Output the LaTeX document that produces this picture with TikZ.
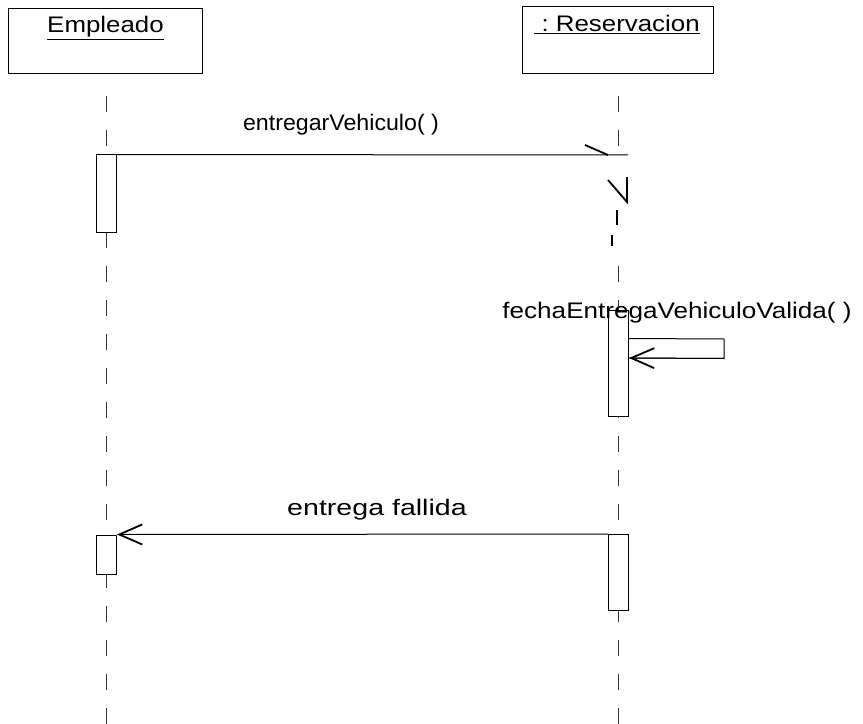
\documentclass[tikz,border=0pt]{standalone}
\usepackage{fontspec}
\setmainfont{Liberation Sans}
\usetikzlibrary{arrows.meta}
\newcommand{\wtxt}[2][1.15]{\scalebox{#1}[1]{#2}}
\begin{document}
\begin{tikzpicture}[x=1bp,y=-1bp,
  objbox/.style={draw, line width=1bp, inner sep=0pt},
  lbl/.style={inner sep=0pt, anchor=base, font=\fontsize{22.5bp}{26bp}\selectfont},
  lifeline/.style={draw=black!80, line width=0.9bp, dash pattern=on 16bp off 18bp},
  act/.style={draw, fill=white, line width=1bp, minimum width=20bp, inner sep=0pt},
  msg/.style={line width=1bp},
  barb/.style={-{Straight Barb[length=23bp,width=20bp,line width=1.8bp]}},
  artif/.style={line width=1.8bp}]
\useasboundingbox (0,0) rectangle (863,724);
% objects
\node[objbox, minimum width=193bp, minimum height=65bp] (emp) at (105.5,41.5) {};
\node[objbox, minimum width=191bp, minimum height=67bp] (res) at (618,40.5) {};
\node[lbl] (empT) at (105.5,33) {\underline{\wtxt{Empleado}}};
\node[lbl] (resT) at (617,32) {\underline{\wtxt{\ :\ Reservacion}}};
% lifelines
\coordinate (eTop) at (106,96);
\coordinate (eBot) at (106,724);
\coordinate (rTop) at (618.5,96);
\coordinate (rMid) at (618.5,150);
\coordinate (rMid2) at (618.5,266);
\coordinate (rBot) at (618.5,724);
\draw[lifeline] (eTop) -- (eBot);
\draw[lifeline] (rTop) -- (rMid);
\draw[lifeline] (rMid2) -- (rBot);
% activations
\node[act, minimum height=77bp] (ea1) at (106.5,193.5) {};
\node[act, minimum height=39bp] (ea2) at (106.5,554.5) {};
\node[act, minimum height=106bp] (ra1) at (618.5,363) {};
\node[act, minimum height=76bp] (ra2) at (618.5,572.5) {};
% message 1
\coordinate (m1end) at (628,155);
\draw[msg] (ea1.north east) -- (m1end);
\node[lbl] (m1) at (341,131) {\wtxt[1.03]{entregarVehiculo( )}};
% broken arrowhead / lifeline marks
\coordinate (a1) at (585,145);
\coordinate (a2) at (608,155);
\draw[artif] (a1) -- (a2);
\coordinate (z1) at (608,180);
\coordinate (z2) at (627,202);
\coordinate (z3) at (627,177);
\draw[artif] (z1) -- (z2) -- (z3);
\coordinate (d1) at (617,210);
\coordinate (d2) at (617,225);
\draw[line width=1.4bp] (d1) -- (d2);
\coordinate (d3) at (612,235);
\coordinate (d4) at (612,246);
\draw[line width=1.2bp] (d3) -- (d4);
% self call
\node[lbl] (m2) at (677,318) {\wtxt[1.16]{fechaEntregaVehiculoValida( )}};
\coordinate (s1) at ([yshift=-29bp]ra1.north east);
\coordinate (s2) at (724,339);
\coordinate (s3) at (724,358.5);
\coordinate (s4) at ([yshift=-48.5bp]ra1.north east);
\draw[msg] (s1) -- (s2) -- (s3) -- (s4);
\draw[barb, line width=1bp] (s3) -- (s4);
% return
\node[lbl] (m3) at (377,515) {\wtxt[1.27]{entrega fallida}};
\draw[msg, barb] (ra2.north west) -- (ea2.north east);
\end{tikzpicture}
\end{document}
